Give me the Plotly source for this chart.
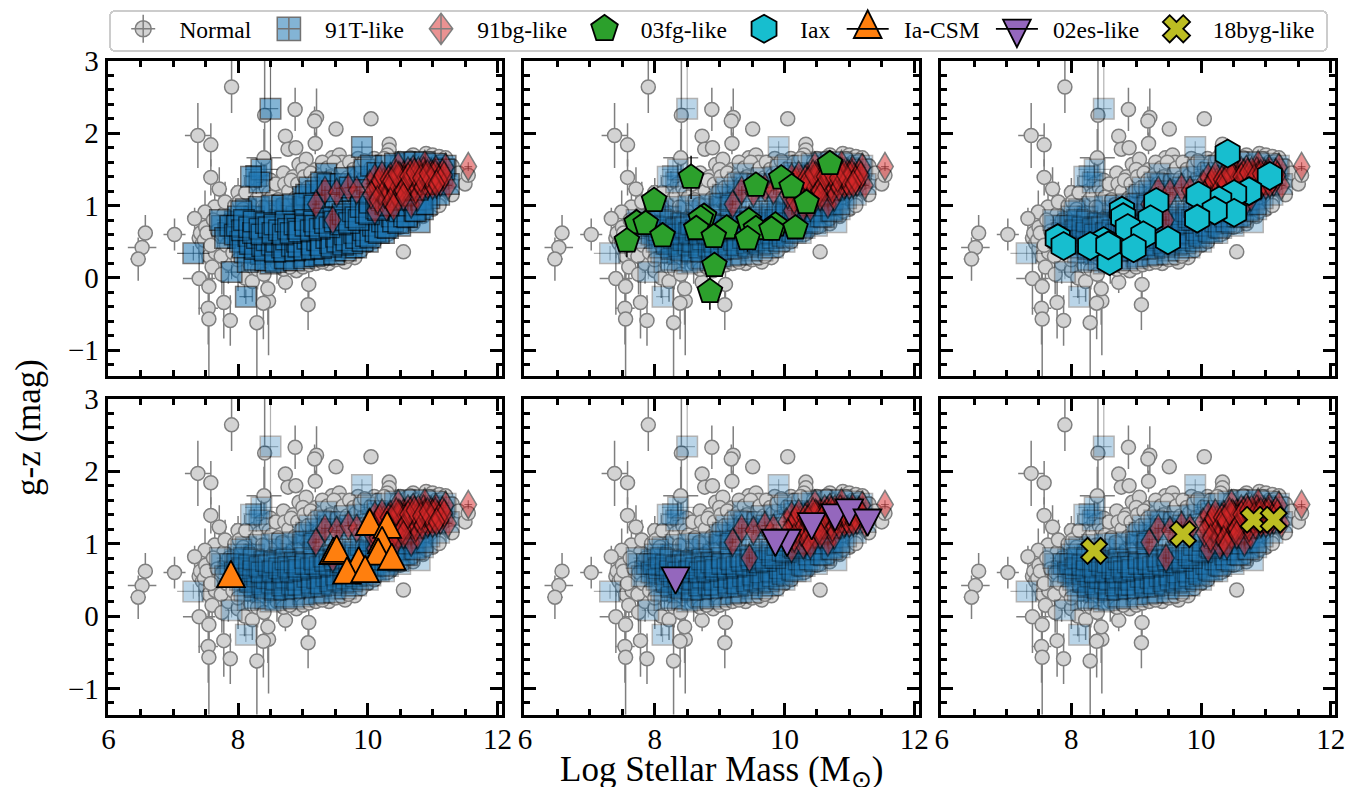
import plotly.graph_objects as go

# ---------- data ----------
normal_out_x = [7.90,8.88,9.21,9.18,9.51,10.05,8.41,7.38,7.58,8.73,8.77,8.89,9.19,10.33,10.33,8.40,9.45,9.56,8.94,9.05,7.58,7.71,8.00,7.64,7.49,7.33,6.57,6.52,6.46,7.02,7.40,7.55,7.78,7.54,7.55,7.88,8.29,8.47,8.39,8.46,8.73,9.09,9.08,10.55]
normal_out_y = [2.64,2.33,2.22,2.17,2.06,2.20,2.25,1.97,1.84,1.96,1.78,1.80,1.86,1.85,1.77,1.66,1.66,1.70,1.57,1.64,1.39,1.23,1.18,0.98,0.91,0.82,0.62,0.42,0.26,0.60,-0.01,-0.12,-0.34,-0.42,-0.57,-0.59,-0.62,-0.32,-0.35,-0.15,-0.06,-0.09,-0.37,0.36]
normal_out_yerr = [0.36,0.30,0.40,0.20,0.05,0.03,0.90,0.45,0.30,0.10,0.10,0.10,0.15,0.05,0.05,0.40,0.05,0.05,0.10,0.10,0.25,0.30,0.20,0.35,0.30,0.15,0.25,0.10,0.30,0.22,0.50,0.35,0.50,0.50,1.20,0.35,1.20,0.75,0.50,0.50,0.15,0.20,0.35,0.02]
normal_out_xerr = [0.02,0.02,0.02,0.02,0.02,0.02,0.03,0.20,0.05,0.03,0.03,0.03,0.03,0.02,0.02,0.27,0.03,0.03,0.03,0.03,0.10,0.12,0.05,0.10,0.08,0.05,0.05,0.22,0.12,0.17,0.25,0.08,0.06,0.15,0.05,0.05,0.05,0.05,0.05,0.05,0.03,0.03,0.03,0.02]
normal_left_x = [7.40,7.45,7.42,7.50,7.55,7.50,7.60,7.60,7.65,7.70,7.72,7.75,7.78,7.80,7.85,7.90,7.95,8.00,8.05,8.10,8.10,8.15,8.20,8.22,8.25,8.30,8.30,8.35,8.40,8.45,8.50,8.55,8.60,7.48,7.52,7.58,7.62,7.68,7.74,7.76,7.82,7.86,7.92,7.98,8.00]
normal_left_y = [0.55,0.48,0.62,0.40,0.30,0.70,0.58,0.15,0.35,0.75,0.50,0.05,0.88,1.05,0.20,0.65,1.00,0.10,0.88,1.12,0.00,0.30,1.00,-0.05,1.20,0.95,0.12,1.30,0.05,1.10,1.35,1.00,0.20,0.52,0.62,0.45,0.80,0.65,0.30,0.60,0.45,0.80,0.35,0.55,0.25]
normal_left_err = 0.28
normal_right_x = [8.65,8.70,8.75,8.80,8.85,8.90,8.95,9.00,9.05,9.10,9.15,9.20,9.25,9.30,9.35,9.40,9.45,9.50,9.55,9.60,9.65,9.70,9.75,9.80,9.85,9.90,10.00,10.00,10.05,10.10,10.20,10.20,10.30,10.35,10.40,10.50,10.55,10.60,10.70,10.70,10.80,10.85,10.90,11.00,11.00,11.10,11.10,11.20,11.25,11.30,11.35,11.40,11.50,11.55,8.02,8.08,8.12,8.18,8.28,8.33,8.38,8.43,8.48,8.52,8.58,8.62,8.68,8.72,8.78,8.82,8.88,8.92,8.98,9.02,9.08,9.12,9.18,9.22,9.28,9.33,9.38,9.42,9.48,9.52,9.58,9.62,9.68,9.72,9.78,9.82,9.88,9.95,10.05,10.15,10.25,10.45,10.65,10.75,10.95,11.05,11.15,9.00,9.10,9.20,9.30,9.50,9.60,9.70,9.90,10.10,10.30,10.50,10.70,10.90,11.10,11.30,8.70,8.80]
normal_right_y = [1.25,1.45,0.90,1.10,1.40,0.10,1.25,1.50,1.05,1.35,0.25,1.50,1.20,1.60,1.40,0.20,1.30,1.50,0.35,1.60,0.22,1.45,1.55,0.28,1.65,1.50,1.60,0.45,0.55,1.65,1.60,0.60,1.70,0.62,1.60,1.65,0.72,1.62,1.70,0.75,1.62,0.85,1.72,1.70,0.95,1.68,1.05,1.66,1.20,1.55,1.35,1.45,1.30,1.42,1.05,0.95,1.18,0.88,1.08,1.15,0.98,1.25,1.18,1.12,1.30,1.08,1.02,1.30,1.20,1.35,1.10,1.30,1.20,1.40,1.25,1.45,1.35,1.15,1.42,1.30,1.52,1.40,1.60,1.35,1.45,1.52,1.38,1.60,1.50,1.42,1.55,1.62,1.52,1.60,1.65,1.60,1.66,1.60,1.65,1.60,1.62,0.15,0.18,0.20,0.22,0.25,0.27,0.30,0.38,0.50,0.60,0.70,0.82,0.92,1.00,1.15,0.12,0.15]
normal_right_err = 0.08

t91_out_x = [8.50,9.91,8.28,8.36,8.33,8.20,7.31,7.90,8.12,9.36,9.00,10.80]
t91_out_y = [2.34,1.81,1.41,1.50,1.32,1.40,0.34,0.08,-0.26,1.44,1.12,0.77]
t91_out_yerr = [0.70,0.08,0.25,0.10,0.10,0.10,0.10,0.10,0.10,0.08,0.08,0.05]
t91_out_xerr = [0.12,0.15,0.20,0.25,0.05,0.08,0.25,0.10,0.10,0.05,0.05,0.05]
t91_core_x = [7.75,7.85,7.95,8.00,8.10,8.10,8.15,8.20,8.25,8.30,8.35,8.40,8.45,8.50,8.50,8.55,8.60,8.65,8.70,8.75,8.75,8.80,8.85,8.90,8.95,9.00,9.00,9.05,9.10,9.15,9.20,9.25,9.25,9.30,9.35,9.40,9.45,9.50,9.50,9.55,9.60,9.65,9.70,9.75,9.75,9.80,9.85,9.90,9.95,10.00,10.00,10.05,10.10,10.15,10.20,10.25,10.25,10.30,10.35,10.40,10.45,10.50,10.50,10.55,10.60,10.65,10.70,10.75,10.80,10.85,10.90,10.95,11.00,11.05,11.10,11.15,11.20,11.25,8.20,8.40,8.60,8.80,9.00,9.20,9.40,9.60,9.80,10.00,10.20,10.40,10.60,10.80,11.00,8.30,8.50,8.70,8.90,9.10,9.30,9.50,9.70,9.90,10.10,10.30,10.50,10.70,10.90]
t91_core_y = [0.72,0.62,0.78,0.55,0.35,0.70,0.22,0.48,0.85,0.60,0.33,0.75,0.50,0.20,0.92,0.65,0.38,0.80,0.52,0.25,0.95,0.68,0.40,0.85,0.58,0.30,0.98,0.72,0.45,0.88,0.62,0.32,1.05,0.78,0.50,0.95,0.68,0.38,1.12,0.82,0.55,1.00,0.72,0.42,1.20,0.88,0.60,1.05,0.75,0.50,1.30,0.95,0.68,1.15,0.85,0.62,1.40,1.02,0.75,1.25,0.90,0.72,1.45,1.10,0.85,1.32,1.00,1.50,1.20,0.95,1.40,1.10,1.52,1.28,1.15,1.42,1.55,1.30,0.65,0.55,0.72,0.50,0.62,0.48,0.58,0.68,0.72,0.85,1.00,1.05,1.15,1.30,1.35,0.42,0.58,0.42,0.72,0.60,0.62,0.55,0.60,0.62,0.88,0.92,1.00,1.25,1.25]
t91_edge_x = [9.05,9.10,9.20,9.28,9.38,9.45,9.58,9.65,9.72,9.85,9.95,10.05,10.15,10.28,10.42,10.58,10.72,10.88,11.05,11.18,8.25,8.42,8.58,8.72,8.86,9.02,9.18,9.33,9.48,9.66,9.82,8.12,8.32,8.52,8.68,8.85,9.02,9.18,7.72,7.80,7.88,7.95,8.00,8.05]
t91_edge_y = [1.15,1.25,1.20,1.32,1.30,1.20,1.30,1.38,1.25,1.40,1.50,1.55,1.45,1.55,1.58,1.60,1.60,1.60,1.58,1.50,0.25,0.24,0.22,0.27,0.24,0.27,0.30,0.32,0.33,0.38,0.42,0.95,0.98,1.00,1.00,1.02,1.03,1.00,0.80,0.55,0.72,0.60,0.85,0.92]
t91_dense_x1 = [8.03,8.07,8.16,8.18,8.26,8.29,8.37,8.41,8.44,8.52,8.57,8.59,8.68,8.71,8.74,8.83,8.88,8.91,8.93,9.02,9.07,9.13,9.14,9.22,9.27,9.28,9.36,9.42,9.44,9.51,9.53,9.62,9.64,9.67,9.76,9.79,9.82,9.92,9.93,9.97,10.04,10.08,10.12,10.17,10.22,10.27,10.31,10.37,10.39,10.47,10.49,10.56,10.61,10.63,10.72,10.74,10.82,10.84,10.91]
t91_dense_x2 = [7.98,8.06,8.09,8.17,8.23,8.24,8.33,8.36,8.43,8.47,8.53,8.56,8.63,8.69,8.73,8.77,8.81,8.87,8.92,8.94,9.03,9.04,9.12,9.17,9.19,9.26,9.32,9.34,9.41,9.47,9.49,9.58,9.61,9.66,9.71,9.77,9.81,9.86,9.89,9.97,10.02,10.03,10.13,10.16,10.19,10.28,10.32,10.33,10.42,10.46,10.48,10.57,10.59,10.66,10.69,10.77,10.79,10.87,10.88]
t91_dense_y1 = [0.50,0.42,0.58,0.47,0.40,0.55,0.44,0.38,0.52,0.46,0.36,0.50,0.42,0.37,0.53,0.44,0.38,0.50,0.43,0.39,0.54,0.46,0.40,0.52,0.45,0.41,0.55,0.48,0.43,0.57,0.50,0.46,0.60,0.52,0.48,0.62,0.55,0.51,0.66,0.58,0.56,0.72,0.64,0.62,0.78,0.70,0.69,0.85,0.78,0.76,0.92,0.85,0.84,1.00,0.93,0.92,1.08,1.02,1.02]
t91_dense_y2 = [0.72,0.66,0.80,0.70,0.62,0.78,0.68,0.60,0.76,0.70,0.62,0.74,0.66,0.60,0.78,0.68,0.62,0.74,0.68,0.64,0.80,0.72,0.66,0.78,0.72,0.68,0.82,0.76,0.70,0.84,0.78,0.74,0.88,0.80,0.76,0.92,0.84,0.80,0.98,0.90,0.88,1.04,0.96,0.94,1.10,1.02,1.00,1.16,1.10,1.08,1.24,1.16,1.14,1.30,1.22,1.22,1.36,1.30,1.30]
t91_core_err = 0.05

bg_x = [11.55,9.20,9.46,10.11,10.29,10.26,10.47,10.67,10.77,11.24,10.47,10.70,11.20,10.88,9.34,9.52,9.70,9.83,10.03,10.11,10.24,10.30,10.35,10.40,10.45,10.50,10.55,10.60,10.62,10.68,10.72,10.80,10.82,10.86,10.90,10.94,10.98,11.02,11.05,11.08,11.12,11.15,10.20,10.16,10.33,10.50,10.58,10.74,10.92,11.00,10.14,10.18,10.22,10.28,10.32,10.38,10.42,10.48,10.52,10.56,10.64,10.66,10.76,10.78,10.84,10.88,10.96,11.00,11.04,11.10,11.18,10.36,10.44,10.54,10.62,10.72,10.82,10.92,11.06,10.05,10.15,10.35,10.55,10.40]
bg_y = [1.54,1.02,0.80,0.93,0.98,1.16,1.12,1.02,1.12,1.28,1.55,1.50,1.53,1.57,1.21,1.18,1.25,1.21,1.30,1.39,1.32,1.28,1.40,1.22,1.35,1.30,1.42,1.25,1.48,1.38,1.28,1.42,1.32,1.48,1.38,1.30,1.45,1.35,1.50,1.40,1.32,1.45,1.20,1.30,1.18,1.40,1.35,1.22,1.28,1.42,1.25,1.35,1.42,1.22,1.36,1.30,1.18,1.42,1.24,1.36,1.32,1.45,1.36,1.48,1.26,1.42,1.34,1.28,1.44,1.36,1.42,1.34,1.44,1.20,1.40,1.46,1.38,1.44,1.30,1.15,1.08,1.05,1.12,0.98]
bg_err = 0.06

fg_x = [10.70,8.56,7.99,9.56,9.95,10.11,10.34,7.72,7.86,7.57,8.12,8.76,8.71,8.64,9.11,8.91,9.45,9.56,9.43,9.86,9.80,10.17,8.92,8.85]
fg_y = [1.58,1.39,1.07,1.28,1.38,1.26,1.04,0.76,0.75,0.51,0.58,0.85,0.82,0.68,0.69,0.57,0.79,0.68,0.54,0.73,0.67,0.69,0.17,-0.19]
fg_yerr = [0.05,0.30,0.08,0.05,0.05,0.05,0.05,0.05,0.05,0.22,0.05,0.05,0.05,0.05,0.05,0.10,0.05,0.05,0.18,0.05,0.05,0.05,0.05,0.25]

iax_x = [10.41,11.06,10.74,10.51,10.28,9.96,10.51,10.21,9.94,9.31,9.22,8.78,8.80,8.87,9.11,9.49,8.96,8.50,8.59,8.29,8.57,7.79,7.88]
iax_y = [1.72,1.41,1.20,1.16,1.07,1.14,0.90,0.93,0.82,1.05,0.81,0.93,0.84,0.69,0.59,0.52,0.41,0.51,0.23,0.44,0.45,0.55,0.44]

csm_x = [7.89,10.03,10.30,9.47,9.52,10.22,10.16,10.37,9.86,9.68,9.96]
csm_y = [0.58,1.30,1.26,0.90,0.93,1.05,0.89,0.82,0.77,0.63,0.65]

es_x = [8.32,10.04,9.86,10.42,10.78,11.00,11.28]
es_y = [0.49,1.01,1.01,1.24,1.36,1.43,1.29]

byg_x = [8.35,9.72,10.81,11.12]
byg_y = [0.90,1.13,1.33,1.33]

legend_names = ["Normal","91T-like","91bg-like","03fg-like","Iax","Ia-CSM","02es-like","18byg-like"]
x_ticks = [6,8,10,12]
y_ticks = [-1,0,1,2,3]

# ---------- styles ----------
FONT = "Liberation Serif"
GREY_LINE = "#7f7f7f"
highlights = [
    (None, None, None, None, None),
    (fg_x, fg_y, "pentagon", "#2ca02c", 26),
    (iax_x, iax_y, "hexagon", "#17becf", 28),
    (csm_x, csm_y, "triangle-up", "#ff7f0e", 24),
    (es_x, es_y, "triangle-down", "#9467bd", 24),
    (byg_x, byg_y, "x", "#bcbd22", 23),
]

left = [107.6, 524.3, 940.9]
width = 394.2
rows = [(61.0, 376.2), (398.8, 714.5)]
W, H = 1357, 787

normal_x = normal_out_x + normal_left_x + normal_right_x
normal_y = normal_out_y + normal_left_y + normal_right_y
normal_yerr = normal_out_yerr + [normal_left_err]*len(normal_left_x) + [normal_right_err]*len(normal_right_x)
normal_xerr = normal_out_xerr + [0.05]*len(normal_left_x) + [0.03]*len(normal_right_x)
t91_x = t91_out_x + t91_core_x + t91_edge_x + t91_dense_x1 + t91_dense_x2
t91_y = t91_out_y + t91_core_y + t91_edge_y + t91_dense_y1 + t91_dense_y2
n_core = len(t91_x) - len(t91_out_x)
t91_yerr = t91_out_yerr + [t91_core_err]*n_core
t91_xerr = t91_out_xerr + [t91_core_err]*n_core

fig = go.Figure()
for i in range(6):
    ax = "" if i == 0 else str(i+1)
    xa, ya = "x"+ax, "y"+ax
    col, row = i % 3, i // 3
    fig.add_trace(go.Scatter(
        x=normal_x, y=normal_y, mode="markers", xaxis=xa, yaxis=ya, showlegend=False,
        marker=dict(symbol="circle", size=14, color="#d3d3d3", line=dict(color=GREY_LINE, width=1.5)),
        error_y=dict(type="data", array=normal_yerr, color=GREY_LINE, thickness=1.5, width=0),
        error_x=dict(type="data", array=normal_xerr, color=GREY_LINE, thickness=1.5, width=0)))
    blue_op = 0.55 if i == 0 else 0.3
    fig.add_trace(go.Scatter(
        x=t91_x, y=t91_y, mode="markers", xaxis=xa, yaxis=ya, showlegend=False,
        marker=dict(symbol="square", size=20.5, color="#1f77b4", opacity=blue_op, line=dict(color="black", width=1.5)),
        error_y=dict(type="data", array=t91_yerr, color=f"rgba(0,0,0,{blue_op})", thickness=1.2, width=0),
        error_x=dict(type="data", array=t91_xerr, color=f"rgba(0,0,0,{blue_op})", thickness=1.2, width=0)))
    fig.add_trace(go.Scatter(
        x=bg_x, y=bg_y, mode="markers", xaxis=xa, yaxis=ya, showlegend=False,
        marker=dict(symbol="diamond-tall", size=20, color="#d62728", opacity=0.5, line=dict(color="black", width=1.5)),
        error_y=dict(type="data", array=[bg_err]*len(bg_x), color="rgba(0,0,0,0.5)", thickness=1.2, width=0),
        error_x=dict(type="data", array=[bg_err]*len(bg_x), color="rgba(0,0,0,0.5)", thickness=1.2, width=0)))
    hx, hy, sym, colr, sz = highlights[i]
    if hx is not None:
        kw = {}
        if sym == "pentagon":
            kw["error_y"] = dict(type="data", array=fg_yerr, color="black", thickness=1.5, width=0)
        fig.add_trace(go.Scatter(
            x=hx, y=hy, mode="markers", xaxis=xa, yaxis=ya, showlegend=False,
            marker=dict(symbol=sym, size=sz, color=colr, line=dict(color="black", width=1.8)), **kw))
    x_dom = [left[col]/W, (left[col]+width)/W]
    y_dom = [1-rows[row][1]/H, 1-rows[row][0]/H]
    common = dict(showgrid=False, zeroline=False, showline=True, linecolor="black", linewidth=3,
                  mirror="ticks", ticks="inside", tickcolor="black", tickwidth=3, ticklen=12,
                  tickfont=dict(family=FONT, size=29, color="black"))
    x_kw = dict(common, domain=x_dom, range=[5.988, 12.067], anchor=ya, tickmode="array", tickvals=x_ticks,
                showticklabels=row == 1, ticklabelstandoff=-3,
                minor=dict(ticks="inside", ticklen=6, tickwidth=2.5, tickcolor="black", dtick=0.5, tick0=0))
    y_kw = dict(common, domain=y_dom, range=[-1.36, 3.0], anchor=xa, tickmode="array", tickvals=y_ticks,
                showticklabels=col == 0,
                minor=dict(ticks="inside", ticklen=6, tickwidth=2.5, tickcolor="black", dtick=0.2, tick0=0))
    fig.update_layout(**{"xaxis"+ax: x_kw, "yaxis"+ax: y_kw})

# legend entries
legend_styles = [
    ("circle", "#d3d3d3", GREY_LINE, 1, 1.5),
    ("square-cross", "#1f77b4", "black", 0.55, 1.5),
    ("diamond-cross", "#d62728", "black", 0.5, 1.5),
    ("pentagon", "#2ca02c", "black", 1, 1.8),
    ("hexagon", "#17becf", "black", 1, 1.8),
    ("triangle-up", "#ff7f0e", "black", 1, 1.8),
    ("triangle-down", "#9467bd", "black", 1, 1.8),
    ("x", "#bcbd22", "black", 1, 1.8),
]
for name, (sym, c, lc, op, lw) in zip(legend_names, legend_styles):
    fig.add_trace(go.Scatter(x=[None], y=[None], mode="markers", name=name, xaxis="x", yaxis="y",
                             marker=dict(symbol=sym, size=16, color=c, opacity=op, line=dict(color=lc, width=lw))))

fig.add_annotation(text="g-z (mag)", xref="paper", yref="paper", x=28/W, y=1-428/H, textangle=-90,
                   xanchor="center", yanchor="middle", showarrow=False,
                   font=dict(family=FONT, size=35, color="black"))
fig.add_annotation(text="Log Stellar Mass (M<sub>⊙</sub>)", xref="paper", yref="paper", x=721/W, y=1-771/H,
                   xanchor="center", yanchor="middle", showarrow=False,
                   font=dict(family=FONT, size=35, color="black"))

fig.update_layout(
    width=W, height=H, margin=dict(l=0, r=0, t=0, b=0, autoexpand=False), paper_bgcolor="white", plot_bgcolor="white",
    legend=dict(orientation="h", x=109/W, y=1-5/H, xanchor="left", yanchor="top", itemwidth=58.4,
                font=dict(family=FONT, size=23.5, color="black"), bgcolor="white",
                bordercolor="#cccccc", borderwidth=2, itemsizing="trace"),
)

post = r"""
document.body.style.margin='0';
document.documentElement.style.overflow='hidden';
function fix(){
  document.querySelectorAll('.scatterlayer path.point').forEach(function(p){
    if(p.dataset.fx) return;
    var f=p.style.fill, t=p.getAttribute('transform')||'', s='';
    if(f.indexOf('255, 127, 14')>=0) s=' translate(0,4.3) scale(1,1.47)';
    else if(f.indexOf('148, 103, 189')>=0) s=' translate(0,-4.3) scale(1,1.47)';
    else if(f.indexOf('214, 39, 40')>=0) s=' scale(1.18,1)';
    if(s){p.setAttribute('transform',t+s);p.style.vectorEffect='non-scaling-stroke';p.dataset.fx='1';}
  });
  var sc=[[1,1,'M-12,0H12M0,-14V14'],[1.45,1.45,''],[1.12,1.5,''],[1.75,1.75,''],[1.8,1.75,''],[1.5,2.3,'M-14,0H14'],[1.5,2.3,'M-14,0H14'],[1.5,1.5,'']];
  document.querySelectorAll('.legend .traces').forEach(function(tr,i){
    var p=tr.querySelector('.legendpoints path.scatterpts'); if(!p||p.dataset.fx) return;
    var c=sc[i]; var t=p.getAttribute('transform')||'';
    if(c[2]) p.setAttribute('d',p.getAttribute('d')+c[2]);
    p.setAttribute('transform',t+' translate(-2,0) scale('+c[0]+','+c[1]+')');
    p.style.vectorEffect='non-scaling-stroke'; p.dataset.fx='1';
  });
  var bg=document.querySelector('.legend rect.bg');
  if(bg&&!bg.dataset.fx){bg.dataset.fx='1';bg.setAttribute('rx',5);bg.setAttribute('ry',5);
    var h=parseFloat(bg.getAttribute('height'));var y=parseFloat(bg.getAttribute('y')||0);
    var ex=h-40; if(ex>0){bg.setAttribute('y',y+ex/2+2);bg.setAttribute('height',40);}
    bg.setAttribute('x',1); bg.setAttribute('width',1217);
  }
}
fix(); setTimeout(fix,100); setTimeout(fix,400);
"""
fig.write_html("out.html", post_script=post, config={"displayModeBar": False})
